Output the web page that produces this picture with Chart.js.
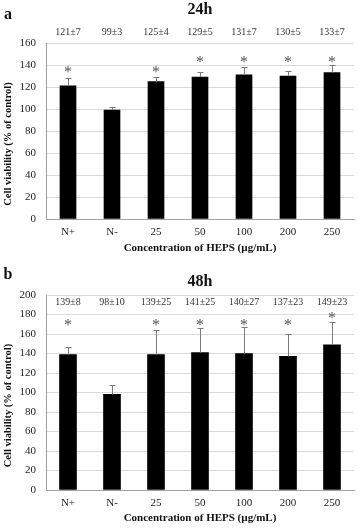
<!DOCTYPE html>
<html>
<head>
<meta charset="utf-8">
<script src="https://cdn.jsdelivr.net/npm/chart.js@4.4.1/dist/chart.umd.min.js"></script>
<style>
    html, body { margin: 0; padding: 0; background: #fff; }
    #wrapA { position: absolute; left: 0; top: 0; width: 358px; height: 258px; }
    #wrapB { position: absolute; left: 0; top: 258px; width: 358px; height: 270px; }
</style>
</head>
<body>
<div id="wrapA"><canvas id="chartA" width="358" height="258"></canvas></div>
<div id="wrapB"><canvas id="chartB" width="358" height="270"></canvas></div>
<script>
// Cell viability data
const categories = ['N+', 'N-', '25', '50', '100', '200', '250'];

const means24 = [121, 99, 125, 129, 131, 130, 133];
const sd24 = [7, 3, 4, 5, 7, 5, 7];
const stars24 = [136, null, 136, 145, 145, 145, 145];   // asterisk heights (y units)

const means48 = [139, 98, 139, 141, 140, 137, 149];
const sd48 = [8, 10, 25, 25, 27, 23, 23];
const stars48 = [171, null, 171, 171, 171, 171, 179];

const yTitle = 'Cell viability (% of control)';
const xTitle = 'Concentration of HEPS (\u00b5g/mL)';
const serif = "'Liberation Serif', 'Times New Roman', serif";

// draws error bars, mean±sd labels, asterisks, panel letter and title
function makeDecor(cfg) {
    return {
        id: 'decor' + cfg.letter,
        afterDatasetsDraw(chart) {
            const ctx = chart.ctx;
            const x = chart.scales.x;
            const y = chart.scales.y;
            ctx.save();
            ctx.strokeStyle = '#7a7a7a';
            ctx.lineWidth = 1;
            cfg.means.forEach((m, i) => {
                const px = Math.round(x.getPixelForValue(i)) + 0.5;
                const top = Math.round(y.getPixelForValue(m + cfg.sds[i])) + 0.5;
                const base = y.getPixelForValue(m);
                ctx.beginPath();
                ctx.moveTo(px, base);
                ctx.lineTo(px, top);
                ctx.moveTo(px - 3, top);
                ctx.lineTo(px + 3, top);
                ctx.stroke();
            });
            ctx.restore();
        },
        afterDraw(chart) {
            const ctx = chart.ctx;
            const x = chart.scales.x;
            const y = chart.scales.y;
            const area = chart.chartArea;
            ctx.save();
            ctx.textAlign = 'center';
            ctx.textBaseline = 'middle';

            // mean ± sd labels
            ctx.fillStyle = '#333';
            ctx.font = '10px ' + serif;
            cfg.means.forEach((m, i) => {
                ctx.fillText(m + '\u00b1' + cfg.sds[i], x.getPixelForValue(i), y.getPixelForValue(cfg.labelAt));
            });

            // significance asterisks
            ctx.fillStyle = '#555';
            ctx.font = '16px ' + serif;
            cfg.stars.forEach((s, i) => {
                if (s === null) return;
                ctx.fillText('*', x.getPixelForValue(i), y.getPixelForValue(s) + 3);
            });

            // panel title and letter
            ctx.fillStyle = '#111';
            ctx.font = 'bold 16px ' + serif;
            ctx.fillText(cfg.title, (area.left + area.right) / 2, cfg.titleY);
            ctx.fillText(cfg.letter, 8, cfg.letterY);

            // y axis title
            ctx.font = 'bold 10.5px ' + serif;
            ctx.translate(8, (area.top + area.bottom) / 2 + 13);
            ctx.rotate(-Math.PI / 2);
            ctx.fillText(yTitle, 0, 0);
            ctx.restore();
        }
    };
}

function renderPanel(canvasId, cfg) {
    const ctx = document.getElementById(canvasId);
    return new Chart(ctx, {
        type: 'bar',
        data: {
            labels: categories,
            datasets: [{
                data: cfg.means,
                backgroundColor: '#000',
                borderWidth: 0,
                barThickness: cfg.barWidth
            }]
        },
        options: {
            responsive: false,
            animation: false,
            layout: {
                padding: { top: cfg.top, right: 4, left: 0, bottom: 0 }
            },
            plugins: {
                legend: { display: false },
                tooltip: { enabled: false }
            },
            scales: {
                x: {
                    grid: { display: false, drawTicks: false },
                    border: { color: '#a0a0a0' },
                    ticks: {
                        padding: 7,
                        color: '#222',
                        font: { family: serif, size: 11 }
                    },
                    title: {
                        display: true,
                        text: xTitle,
                        color: '#111',
                        padding: { top: 0, bottom: 3.4 },
                        font: { family: serif, size: 11, weight: 'bold' }
                    },
                    afterFit: function (scale) {
                        scale.height = cfg.xHeight;
                    }
                },
                y: {
                    min: 0,
                    max: cfg.yMax,
                    grid: {
                        color: '#d9d9d9',
                        drawTicks: false
                    },
                    border: { color: '#a0a0a0' },
                    ticks: {
                        stepSize: 20,
                        padding: 10,
                        color: '#222',
                        font: { family: serif, size: 11 }
                    },
                    afterFit: function (scale) {
                        scale.width = 46;
                    }
                }
            }
        },
        plugins: [makeDecor(cfg)]
    });
}

renderPanel('chartA', {
    letter: 'a', title: '24h', letterY: 15, titleY: 10,
    means: means24, sds: sd24, stars: stars24, labelAt: 170,
    yMax: 160, top: 43, xHeight: 39, barWidth: 16
});

renderPanel('chartB', {
    letter: 'b', title: '48h', letterY: 17, titleY: 24,
    means: means48, sds: sd48, stars: stars48, labelAt: 192,
    yMax: 200, top: 37, xHeight: 38, barWidth: 17
});
</script>
</body>
</html>
